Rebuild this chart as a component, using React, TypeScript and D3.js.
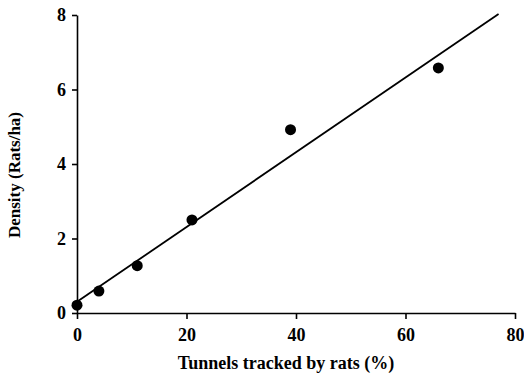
import React, { useRef, useEffect } from 'react';
import * as d3 from 'd3';

const tunnels = [0, 4, 11, 21, 39, 66];
const density = [0.21, 0.59, 1.27, 2.5, 4.92, 6.58];
const fitX = [0, 77];
const fitY = [0.3, 8.03];
const xTicks = [0, 20, 40, 60, 80];
const yTicks = [0, 2, 4, 6, 8];

const App = () => {
  const ref = useRef<SVGSVGElement>(null);

  useEffect(() => {
    if (!ref.current) return;
    const svg = d3.select(ref.current);
    svg.selectAll('*').remove();

    const width = 524;
    const height = 375;
    const x = d3.scaleLinear().domain([0, 80]).range([77, 515]);
    const y = d3.scaleLinear().domain([0, 8]).range([313, 15]);
    const font = '"Liberation Serif", "Times New Roman", serif';

    svg.attr('width', width).attr('height', height);

    const xAxis = svg.append('g')
      .attr('transform', `translate(0,${y(0)})`)
      .call(d3.axisBottom(x).tickValues(xTicks).tickSize(6).tickPadding(9).tickSizeOuter(0));
    const yAxis = svg.append('g')
      .attr('transform', `translate(${x(0)},0)`)
      .call(d3.axisLeft(y).tickValues(yTicks).tickSize(5).tickPadding(6).tickSizeOuter(0));

    [xAxis, yAxis].forEach(a => {
      a.attr('font-family', font).attr('font-size', 18).attr('font-weight', 'bold');
      a.select('.domain').attr('stroke', '#000').attr('stroke-width', 1.6);
      a.selectAll('.tick line').attr('stroke', '#000').attr('stroke-width', 1.6);
      a.selectAll('.tick text').attr('fill', '#000');
    });

    const line = d3.line<number>()
      .x((d, i) => x(fitX[i]))
      .y(d => y(d));
    svg.append('path')
      .datum(fitY)
      .attr('d', line)
      .attr('fill', 'none')
      .attr('stroke', '#000')
      .attr('stroke-width', 1.8);

    svg.selectAll('circle')
      .data(tunnels)
      .enter()
      .append('circle')
      .attr('cx', d => x(d))
      .attr('cy', (d, i) => y(density[i]))
      .attr('r', 5.5)
      .attr('fill', '#000');

    svg.append('text')
      .attr('x', 286)
      .attr('y', 369)
      .attr('text-anchor', 'middle')
      .attr('font-family', font)
      .attr('font-size', 18)
      .attr('font-weight', 'bold')
      .text('Tunnels tracked by rats (%)');

    svg.append('text')
      .attr('transform', 'translate(20,175) rotate(-90)')
      .attr('text-anchor', 'middle')
      .attr('font-family', font)
      .attr('font-size', 17)
      .attr('font-weight', 'bold')
      .text('Density (Rats/ha)');
  }, []);

  return (
    <div style={{ position: 'absolute', left: 0, top: 0 }}>
      <svg ref={ref} style={{ display: 'block', background: '#fff' }}></svg>
    </div>
  );
};

export default App;
